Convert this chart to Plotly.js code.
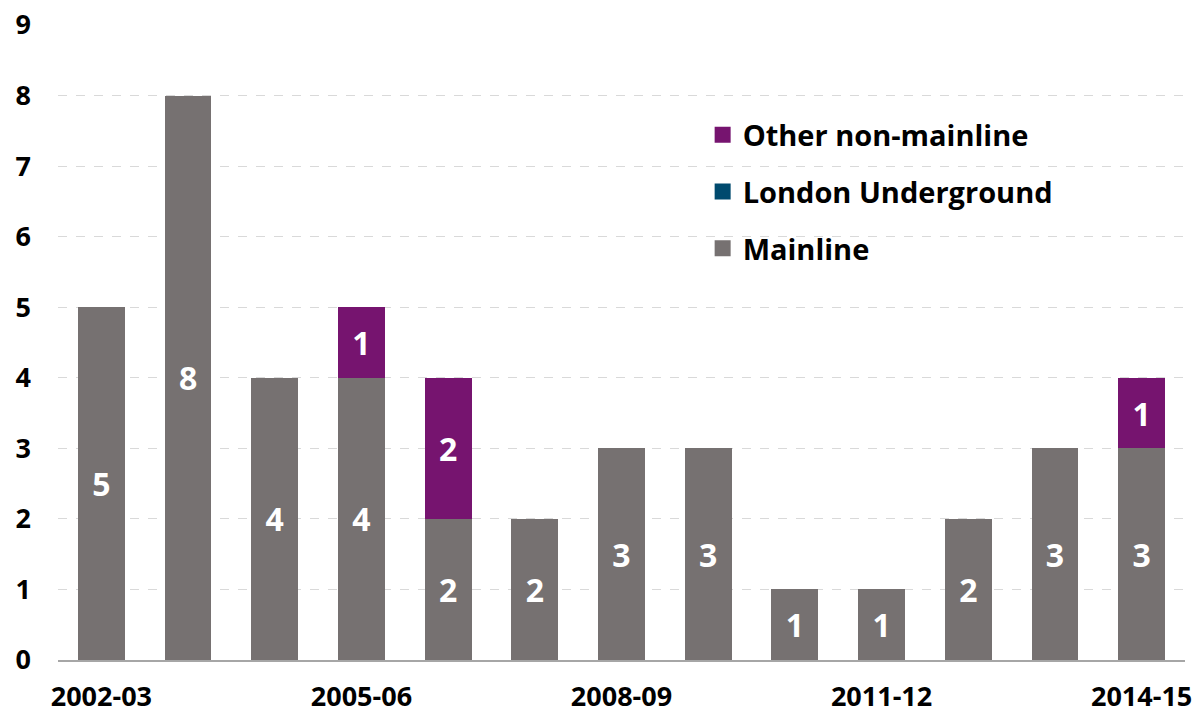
<!DOCTYPE html>
<html><head><meta charset="utf-8">
<script src="https://cdn.plot.ly/plotly-3.0.1.min.js"></script>
<style>html,body{margin:0;padding:0;background:#fff}#chart{width:1199px;height:713px}</style>
</head><body><div id="chart"></div>
<script>
var categories = ["2002-03","2003-04","2004-05","2005-06","2006-07","2007-08","2008-09","2009-10","2010-11","2011-12","2012-13","2013-14","2014-15"];
var mainline = [5,8,4,4,2,2,3,3,1,1,2,3,3];
var londonUnderground = [0,0,0,0,0,0,0,0,0,0,0,0,0];
var otherNonMainline = [0,0,0,1,2,0,0,0,0,0,0,0,1];
var shownTicks = ["2002-03","2005-06","2008-09","2011-12","2014-15"];
var seriesNames = ["Mainline","London Underground","Other non-mainline"];
var seriesColors = ["#767171","#004A6E","#76146F"];

function labels(arr){return arr.map(function(v){return v>0?String(v):"";});}
var FONT = "Open Sans, DejaVu Sans, sans-serif";
var common = {type:"bar", x:categories, textposition:"inside", insidetextanchor:"middle",
  textfont:{family:FONT, size:32, color:"#ffffff", weight:"bold"}, hoverinfo:"skip", showlegend:false};

var values = [mainline, londonUnderground, otherNonMainline];
var traces = values.map(function(v,i){
  return Object.assign({}, common, {name:seriesNames[i], y:v, text:labels(v), marker:{color:seriesColors[i]}});
});
// legend entries (square markers), top to bottom: Other, London Underground, Mainline
for (var i = seriesNames.length - 1; i >= 0; i--) {
  traces.push({type:"scatter", mode:"markers", x:[null], y:[null], name:seriesNames[i], legendgroup:seriesNames[i],
    marker:{symbol:"square", size:20, color:seriesColors[i]}, hoverinfo:"skip", showlegend:true});
}

var layout = {
  width:1199, height:713,
  margin:{l:58, r:14, t:25, b:53},
  barmode:"stack", bargap:0.46,
  paper_bgcolor:"#fff", plot_bgcolor:"#fff",
  font:{family:FONT, color:"#000"},
  xaxis:{type:"category", categoryorder:"array", categoryarray:categories,
    tickmode:"array", tickvals:shownTicks, ticktext:shownTicks,
    tickfont:{family:FONT, size:27, color:"#000", weight:"bold"},
    showgrid:false, showline:true, linecolor:"#a6a6a6", linewidth:1.5, ticks:"",
    ticklabelstandoff:12},
  yaxis:{range:[0,9], dtick:1, tick0:0,
    tickfont:{family:FONT, size:27, color:"#000", weight:"bold"},
    showgrid:true, gridcolor:"#d9d9d9", griddash:"dash", gridwidth:1,
    zeroline:false, showline:false, ticks:"", ticklabelstandoff:26},
  legend:{x:0.572, y:0.867, xanchor:"left", yanchor:"top", traceorder:"grouped",
    font:{family:FONT, size:29, color:"#000", weight:"bold"}, itemwidth:30, tracegroupgap:16,
    bgcolor:"rgba(255,255,255,0)"},
  showlegend:true
};
Plotly.newPlot("chart", traces, layout, {displayModeBar:false, staticPlot:true});
</script></body></html>
